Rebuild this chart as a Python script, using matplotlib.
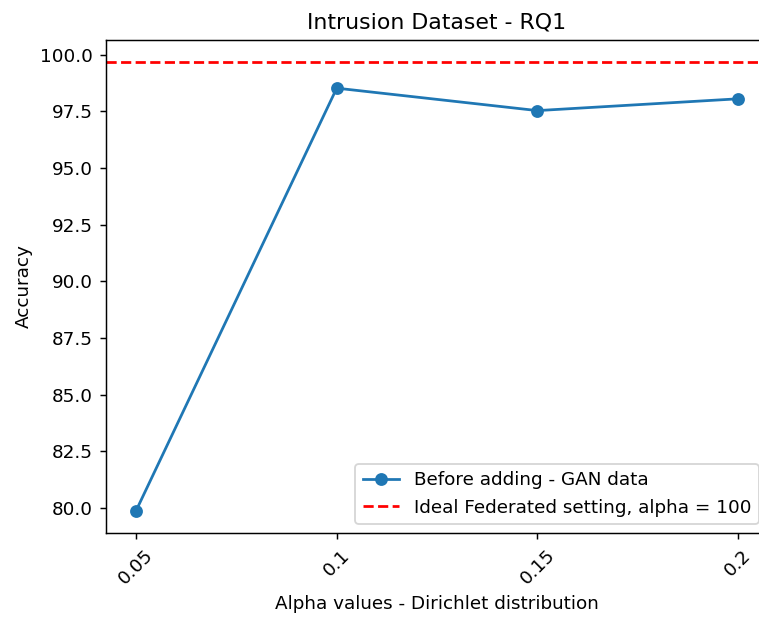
import matplotlib
matplotlib.use("Agg")
from matplotlib import pyplot as plt

alphas = ["0.05", "0.1", "0.15", "0.2"]
accuracy_before_gan = [79.88, 98.52, 97.53, 98.05]
ideal_accuracy = 99.66

# original was drawn at a higher dpi, so everything looks a bit bigger
fig = plt.figure(figsize=(5.75, 4.69), dpi=132)
# axes runs a bit past the right edge, like the cropped original
ax = fig.add_axes([0.1397, 0.1389, 0.8722, 0.7965])

ax.plot(alphas, accuracy_before_gan, marker='o', label='Before adding - GAN data')
ax.axhline(ideal_accuracy, color='red', linestyle='--', label='Ideal Federated setting, alpha = 100')

ax.set_title("Intrusion Dataset - RQ1")
ax.set_xlabel("Alpha values - Dirichlet distribution")
ax.set_ylabel("Accuracy")
plt.setp(ax.get_xticklabels(), rotation=45)
ax.legend(loc='lower right')

fig.savefig("out.png", dpi=132)
